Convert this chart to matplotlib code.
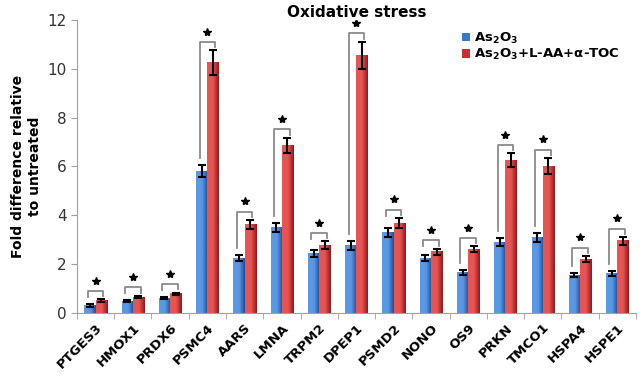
import matplotlib.pyplot as plt
import numpy as np

plt.rcParams['mathtext.default'] = 'bf'

# Data
genes = ['PTGES3', 'HMOX1', 'PRDX6', 'PSMC4', 'AARS', 'LMNA', 'TRPM2', 'DPEP1',
         'PSMD2', 'NONO', 'OS9', 'PRKN', 'TMCO1', 'HSPA4', 'HSPE1']
as2o3 = [0.30, 0.48, 0.60, 5.80, 2.25, 3.50, 2.42, 2.75, 3.30, 2.25, 1.65, 2.90, 3.10, 1.55, 1.60]
as2o3_err = [0.05, 0.05, 0.05, 0.25, 0.12, 0.18, 0.15, 0.18, 0.18, 0.12, 0.10, 0.15, 0.18, 0.08, 0.10]
combo = [0.50, 0.65, 0.78, 10.25, 3.62, 6.85, 2.78, 10.55, 3.68, 2.50, 2.60, 6.25, 6.02, 2.20, 2.95]
combo_err = [0.05, 0.05, 0.05, 0.50, 0.18, 0.32, 0.15, 0.55, 0.20, 0.12, 0.12, 0.28, 0.32, 0.12, 0.15]

fig = plt.figure(figsize=(6.41, 3.83), dpi=100)
ax = fig.add_axes([0.12, 0.183, 0.872, 0.765])

x = np.arange(len(genes))
w = 0.3


def grad_bar(xc, h, light, dark):
    # horizontal shading like the Excel bars
    cmap = plt.matplotlib.colors.LinearSegmentedColormap.from_list('g', [light, light, dark])
    g = np.linspace(0, 1, 32).reshape(1, -1)
    ax.imshow(g, cmap=cmap, aspect='auto', extent=(xc - w / 2, xc + w / 2, 0, h),
              zorder=2, interpolation='bilinear')


for i in range(len(genes)):
    grad_bar(x[i] - w / 2, as2o3[i], '#5a98e6', '#1d4e9c')
    grad_bar(x[i] + w / 2, combo[i], '#e85454', '#961818')

ax.errorbar(x - w / 2, as2o3, yerr=as2o3_err, fmt='none', ecolor='black',
            elinewidth=1.5, capsize=3, capthick=1.5, zorder=3)
ax.errorbar(x + w / 2, combo, yerr=combo_err, fmt='none', ecolor='black',
            elinewidth=1.5, capsize=3, capthick=1.5, zorder=3)

# significance brackets
for i in range(len(genes)):
    b_top = as2o3[i] + as2o3_err[i]
    r_top = combo[i] + combo_err[i]
    yb = max(b_top, r_top) + 0.35
    if yb - b_top > 0.9:
        left_end = b_top + 0.3
    else:
        left_end = yb - 0.25
    xl = x[i] - w / 2 - 0.06
    xr = x[i] + w / 2 + 0.06
    ax.plot([xl, xl, xr, xr], [left_end, yb, yb, yb - 0.22], color='#8a8a8a',
            lw=1.3, zorder=1)
    ax.plot(x[i], yb + 0.42, marker='*', ms=6, color='black', zorder=3)

# dummy handles for the legend
ax.bar([0], [0], color='#3a78c9', label=r'As$_2$O$_3$')
ax.bar([0], [0], color='#c82e2e', label=r'As$_2$O$_3$+L-AA+$\alpha$-TOC')
leg = ax.legend(loc='upper left', bbox_to_anchor=(0.675, 0.99), frameon=False,
                prop={'weight': 'bold', 'size': 9.5}, handlelength=0.6,
                handleheight=0.6, handletextpad=0.3, labelspacing=0.1,
                borderaxespad=0.2)

ax.set_xlim(-0.5, len(genes) - 0.5)
ax.set_ylim(0, 12)
ax.set_yticks(range(0, 13, 2))
ax.set_xticks(x)
ax.set_xticklabels(genes, rotation=45, ha='right', rotation_mode='anchor',
                   fontweight='bold', fontsize=9.5)
ax.tick_params(axis='x', length=0, pad=6)
ax.set_xticks(np.arange(-0.5, len(genes), 1), minor=True)
ax.tick_params(axis='x', which='minor', length=4, color='#a0a0a0', direction='out')
ax.tick_params(axis='y', length=4, color='#a0a0a0', labelsize=11, labelcolor='#333333')
for s in ['top', 'right']:
    ax.spines[s].set_visible(False)
for s in ['left', 'bottom']:
    ax.spines[s].set_color('#a0a0a0')

ax.set_ylabel('Fold difference relative\nto untreated', fontweight='bold', fontsize=10)
ax.set_title('Oxidative stress', fontweight='bold', fontsize=11, pad=1)

fig.savefig('out.png', dpi=100)
